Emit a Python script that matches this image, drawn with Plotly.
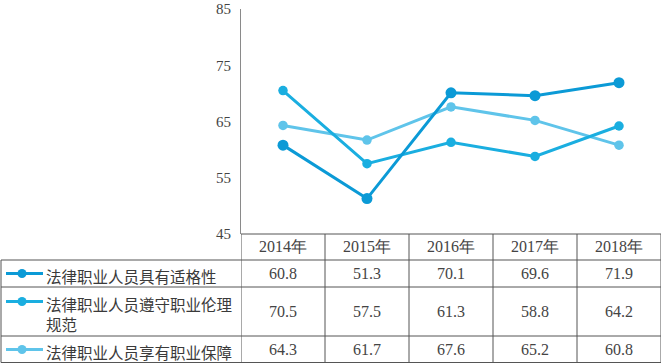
import plotly.graph_objects as go

years = ["2014年", "2015年", "2016年", "2017年", "2018年"]
series_names = ["法律职业人员具有适格性", "法律职业人员遵守职业伦理<br>规范", "法律职业人员享有职业保障"]
s1 = [60.8, 51.3, 70.1, 69.6, 71.9]
s2 = [70.5, 57.5, 61.3, 58.8, 64.2]
s3 = [64.3, 61.7, 67.6, 65.2, 60.8]
y_ticks = [45, 55, 65, 75, 85]

series = [s1, s2, s3]
colors = ["#0b9ad6", "#1aaee0", "#5fc4ea"]
msizes = [11, 9.5, 9.5]

W, H = 662, 364
PL, PR, PT, PB = 241, 661, 9, 234


def px(x):
    return (x - PL) / (PR - PL)


def py(y):
    return (PB - y) / (PB - PT)


fig = go.Figure()
for i in [2, 1, 0]:
    fig.add_trace(go.Scatter(
        x=years, y=series[i], mode="lines+markers",
        line=dict(color=colors[i], width=3),
        marker=dict(color=colors[i], size=msizes[i]),
        showlegend=False, hoverinfo="x+y",
    ))

shapes = []
annotations = []
grid = "#555555"
row_tops = [260, 287, 336]
row_bots = [287, 336, 363]
shapes.append(dict(type="line", xref="paper", yref="paper", x0=0, x1=1,
                   y0=py(234), y1=py(234), line=dict(color=grid, width=1)))
for yy in [260, 287, 336, 362.5]:
    shapes.append(dict(type="line", xref="paper", yref="paper", x0=px(1), x1=1,
                       y0=py(yy), y1=py(yy), line=dict(color=grid, width=1)))
for k in range(len(years) + 1):
    shapes.append(dict(type="line", xref="x", yref="paper", x0=k - 0.5, x1=k - 0.5,
                       y0=py(234), y1=py(362.5), line=dict(color=grid, width=1)))
shapes.append(dict(type="line", xref="paper", yref="paper", x0=px(1), x1=px(1),
                   y0=py(260), y1=py(362.5), line=dict(color=grid, width=1)))

num_font = dict(family="Liberation Serif, DejaVu Serif, serif", size=16, color="#444444")
cjk_font = dict(family="Noto Sans CJK SC, sans-serif", size=15.5, color="#3a3a3a")

for yr in years:
    annotations.append(dict(x=yr, y=py(247), xref="x", yref="paper", text=yr,
                            showarrow=False, font=num_font, xanchor="center", yanchor="middle"))

label_y = [273.5, 301.5, 349.5]
for i, vals in enumerate(series):
    cy = (row_tops[i] + row_bots[i]) / 2
    for yr, v in zip(years, vals):
        annotations.append(dict(x=yr, y=py(cy), xref="x", yref="paper", text=f"{v:.1f}",
                                showarrow=False, font=num_font, xanchor="center", yanchor="middle"))
    ly = label_y[i]
    shapes.append(dict(type="line", xref="paper", yref="paper", x0=px(6), x1=px(43),
                       y0=py(ly), y1=py(ly), line=dict(color=colors[i], width=3)))
    r = 4.5
    shapes.append(dict(type="circle", xref="paper", yref="paper",
                       x0=px(22 - r), x1=px(22 + r), y0=py(ly + r), y1=py(ly - r),
                       fillcolor=colors[i], line=dict(color=colors[i], width=0)))
    annotations.append(dict(x=px(44), y=py(ly - 10.5), xref="paper", yref="paper",
                            text=series_names[i], showarrow=False, font=cjk_font,
                            xanchor="left", yanchor="top", align="left"))

fig.update_layout(
    width=W, height=H,
    margin=dict(l=PL, r=W - PR, t=PT, b=H - PB, pad=0),
    paper_bgcolor="white", plot_bgcolor="white",
    xaxis=dict(type="category", range=[-0.5, 4.5], showticklabels=False,
               showgrid=False, zeroline=False, showline=False, fixedrange=True),
    yaxis=dict(range=[45, 85], tickvals=y_ticks, showgrid=False, zeroline=False,
               showline=True, linecolor="#8a8a8a", linewidth=1, ticks="",
               ticklabelstandoff=6,
               tickfont=dict(family="Liberation Serif, DejaVu Serif, serif", size=15, color="#444444"),
               fixedrange=True),
    shapes=shapes, annotations=annotations,
)

fig.write_html("out.html", config={"displayModeBar": False},
               post_script="document.body.style.margin='0';document.body.style.overflow='hidden';")
